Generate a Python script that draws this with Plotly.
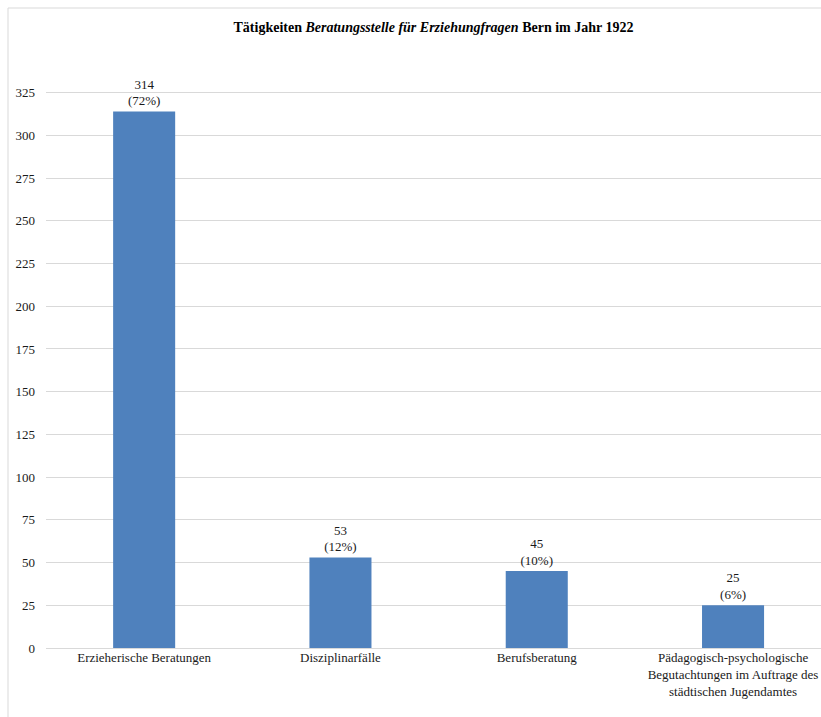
import plotly.graph_objects as go

categories = [
    "Erzieherische Beratungen",
    "Disziplinarfälle",
    "Berufsberatung",
    "Pädagogisch-psychologische<br>Begutachtungen im Auftrage des<br>städtischen Jugendamtes",
]
values = [314, 53, 45, 25]
y_ticks = [0, 25, 50, 75, 100, 125, 150, 175, 200, 225, 250, 275, 300, 325]

total = sum(values)
labels = [f"{v}<br>({round(100 * v / total)}%)" for v in values]

FONT = "'Times New Roman', 'Liberation Serif', Tinos, 'DejaVu Serif', serif"

fig = go.Figure(
    go.Bar(
        x=list(range(len(categories))),
        y=values,
        text=labels,
        textposition="outside",
        textfont=dict(family=FONT, size=13, color="#1a1a1a"),
        marker=dict(color="#4f81bd", line=dict(width=0)),
        cliponaxis=False,
        width=0.316,
    )
)

fig.update_layout(
    width=821,
    height=717,
    margin=dict(l=46, r=0, t=67, b=69),
    paper_bgcolor="white",
    plot_bgcolor="white",
    font=dict(family=FONT, size=13, color="#1a1a1a"),
    showlegend=False,
    title=dict(
        text="<b>Tätigkeiten <i>Beratungsstelle für Erziehungfragen</i> Bern im Jahr 1922</b>",
        x=0.5,
        xref="paper",
        xanchor="center",
        y=1 - 27 / 717,
        yref="container",
        yanchor="middle",
        font=dict(family=FONT, size=14, color="black"),
    ),
    xaxis=dict(
        tickmode="array",
        tickvals=list(range(len(categories))),
        ticktext=categories,
        range=[-0.5, -0.5 + 775 / 196.3],
        showgrid=False,
        zeroline=False,
        showline=False,
        ticks="",
        tickfont=dict(family=FONT, size=13, color="#1a1a1a"),
    ),
    yaxis=dict(
        range=[0, 340],
        tickmode="array",
        tickvals=y_ticks,
        showgrid=True,
        gridcolor="#d9d9d9",
        gridwidth=1,
        zeroline=True,
        zerolinecolor="#d9d9d9",
        zerolinewidth=1,
        showline=False,
        ticks="",
        ticklabelstandoff=10,
        tickfont=dict(family=FONT, size=13, color="#1a1a1a"),
    ),
    shapes=[
        dict(
            type="rect",
            xref="paper",
            yref="paper",
            x0=(8 - 46) / 775,
            x1=1.2,
            y0=-0.3,
            y1=(648 - 8) / 581,
            line=dict(color="#d9d9d9", width=1),
            fillcolor="rgba(0,0,0,0)",
            layer="below",
        )
    ],
)

fig.write_html("out.html")
